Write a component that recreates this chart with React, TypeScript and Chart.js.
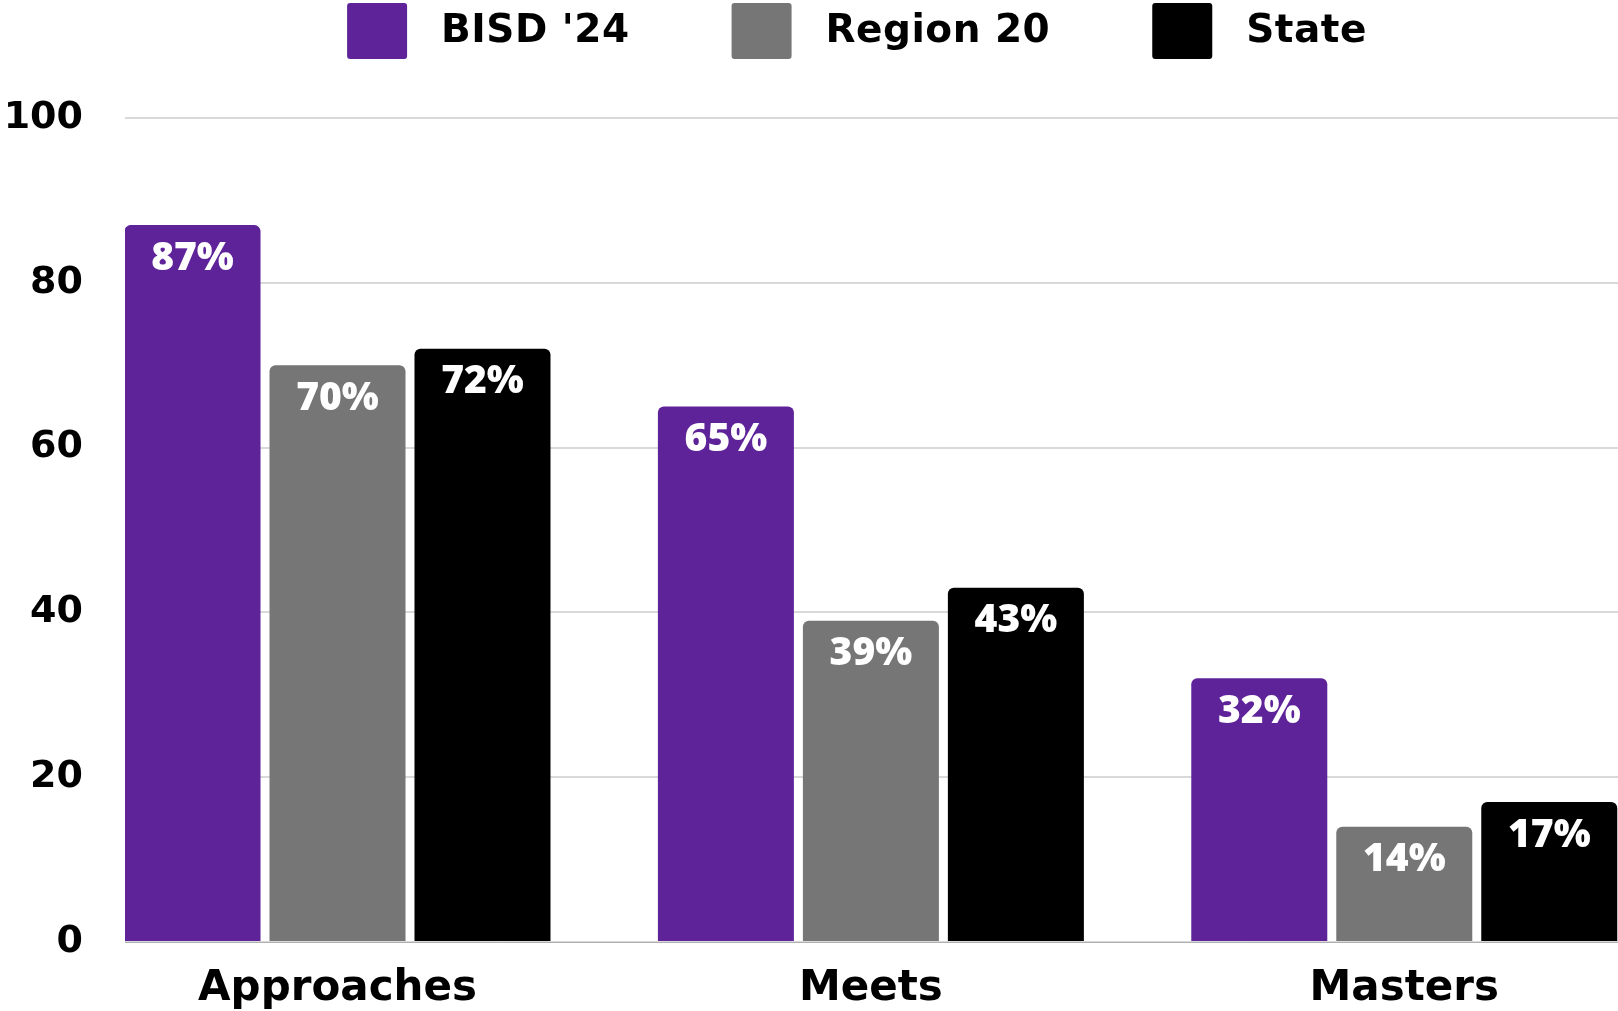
import React, { useEffect, useRef } from "react";
import { Chart, registerables } from "chart.js";

Chart.register(...registerables);

const categories = ["Approaches", "Meets", "Masters"];
const seriesNames = ["BISD '24", "Region 20", "State"];
const bisd = [87, 65, 32];
const region20 = [70, 39, 14];
const state = [72, 43, 17];
const yTicks = [0, 20, 40, 60, 80, 100];
const colors = ["#5E2399", "#767676", "#000000"];

export default function App() {
  const ref = useRef<HTMLCanvasElement>(null);

  useEffect(() => {
    const canvas = ref.current;
    if (!canvas) return;
    const series = [bisd, region20, state];

    const legendPlugin = {
      id: "customLegend",
      afterDraw(chart: any) {
        const ctx = chart.ctx as CanvasRenderingContext2D;
        ctx.save();
        ctx.font = "bold 39px 'DejaVu Sans'";
        (ctx as any).letterSpacing = "0.5px";
        const boxW = 60, boxH = 56, textGap = 34, itemGap = 102;
        const items = chart.data.datasets.map((ds: any) => ({
          label: ds.label,
          color: ds.backgroundColor,
          w: ctx.measureText(ds.label).width,
        }));
        const total =
          items.reduce((s: number, it: any) => s + boxW + textGap + it.w, 0) +
          itemGap * (items.length - 1);
        let x = 857 - total / 2;
        items.forEach((it: any) => {
          ctx.fillStyle = it.color;
          ctx.beginPath();
          (ctx as any).roundRect(x, 3, boxW, boxH, 3);
          ctx.fill();
          ctx.fillStyle = "#000";
          ctx.textAlign = "left";
          ctx.textBaseline = "alphabetic";
          ctx.fillText(it.label, x + boxW + textGap, 42);
          x += boxW + textGap + it.w + itemGap;
        });
        (ctx as any).letterSpacing = "0px";
        ctx.restore();
      },
    };

    const labelPlugin = {
      id: "barLabels",
      afterDatasetsDraw(chart: any) {
        const ctx = chart.ctx as CanvasRenderingContext2D;
        ctx.save();
        ctx.font = "800 39px 'Open Sans'";
        ctx.fillStyle = "#ffffff";
        ctx.textAlign = "center";
        ctx.textBaseline = "top";
        chart.data.datasets.forEach((_ds: any, di: number) => {
          const meta = chart.getDatasetMeta(di);
          meta.data.forEach((bar: any, i: number) => {
            ctx.fillText(series[di][i] + "%", bar.x, bar.y + 14);
          });
        });
        ctx.restore();
      },
    };

    const chart = new Chart(canvas, {
      type: "bar",
      data: {
        datasets: series.map((s, di) => ({
          label: seriesNames[di],
          data: s.map((y, i) => ({ x: i, y })),
          backgroundColor: colors[di],
          borderRadius: 6,
          categoryPercentage: 0.8155,
          barPercentage: 0.938,
        })),
      },
      options: {
        responsive: false,
        animation: false,
        devicePixelRatio: 1,
        layout: { padding: { top: 118, right: 0, bottom: 0, left: 0 } },
        plugins: {
          legend: { display: false },
          tooltip: { enabled: false },
        },
        scales: {
          x: {
            type: "linear",
            min: -0.3984,
            max: 2.4007,
            offset: false,
            grid: { display: false, drawTicks: false },
            border: { display: true, color: "#b0b0b0", width: 1 },
            afterBuildTicks: (s: any) => {
              s.ticks = categories.map((_c, i) => ({ value: i }));
            },
            afterFit: (s: any) => {
              s.height = 69;
            },
            ticks: {
              padding: 22,
              color: "#000",
              maxRotation: 0,
              autoSkip: false,
              font: { family: "'DejaVu Sans'", weight: "bold", size: 42 },
              callback: (v: any) => categories[v] ?? "",
            },
          },
          y: {
            min: 0,
            max: 100,
            afterBuildTicks: (s: any) => {
              s.ticks = yTicks.map((v) => ({ value: v }));
            },
            afterFit: (s: any) => {
              s.width = 125;
            },
            grid: { color: "#d9d9d9", lineWidth: 2, drawTicks: false },
            border: { display: false },
            ticks: {
              padding: 42,
              color: "#000",
              font: { family: "'DejaVu Sans'", weight: "bold", size: 38 },
            },
          },
        },
      } as any,
      plugins: [legendPlugin, labelPlugin],
    });

    return () => chart.destroy();
  }, []);

  return (
    <div style={{ position: "absolute", left: 0, top: 0, width: 1618, height: 1011, background: "#fff" }}>
      <canvas ref={ref} width={1618} height={1011} style={{ display: "block" }} />
    </div>
  );
}
